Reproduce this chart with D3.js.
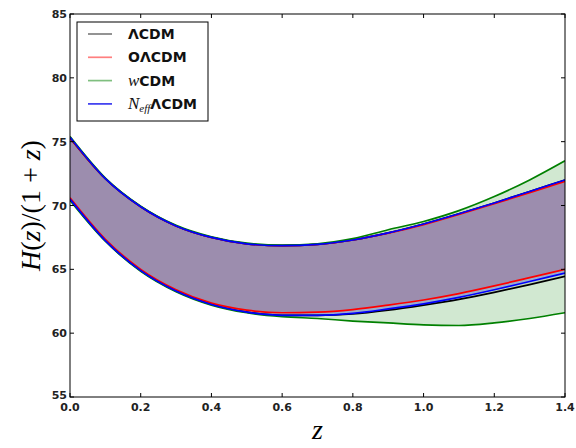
<!DOCTYPE html>
<html>
<head>
<meta charset="utf-8">
<script src="https://cdn.jsdelivr.net/npm/d3@7"></script>
<style>
  body { margin: 0; background: #fff; }
  svg { display: block; }
</style>
</head>
<body>
<script>
// redshift grid
const zs = [0, 0.1, 0.2, 0.3, 0.4, 0.5, 0.6, 0.7, 0.8, 0.9, 1.0, 1.1, 1.2, 1.3, 1.4];

// upper / lower edges of each band, H(z)/(1+z)
const lcdmUp   = [75.3, 72.1, 69.9, 68.4, 67.5, 67.0, 66.85, 66.95, 67.3, 67.85, 68.55, 69.35, 70.2, 71.1, 72.0];
const lcdmLow  = [70.5, 67.25, 64.9, 63.3, 62.25, 61.65, 61.4, 61.4, 61.5, 61.8, 62.2, 62.65, 63.2, 63.8, 64.45];
const olcdmUp  = [75.3, 72.1, 69.9, 68.4, 67.5, 67.0, 66.85, 66.95, 67.3, 67.83, 68.5, 69.3, 70.15, 71.0, 71.9];
const olcdmLow = [70.6, 67.35, 65.0, 63.4, 62.35, 61.8, 61.6, 61.65, 61.85, 62.2, 62.6, 63.1, 63.7, 64.35, 65.0];
const wcdmUp   = [75.4, 72.15, 69.95, 68.45, 67.55, 67.05, 66.9, 67.0, 67.4, 68.1, 68.75, 69.6, 70.7, 72.0, 73.5];
const wcdmLow  = [70.4, 67.2, 64.85, 63.25, 62.2, 61.6, 61.3, 61.15, 60.95, 60.8, 60.65, 60.6, 60.8, 61.15, 61.6];
const neffUp   = [75.35, 72.1, 69.9, 68.4, 67.5, 67.0, 66.85, 66.95, 67.3, 67.85, 68.55, 69.35, 70.2, 71.1, 72.0];
const neffLow  = [70.5, 67.25, 64.9, 63.3, 62.25, 61.65, 61.4, 61.4, 61.55, 61.9, 62.3, 62.8, 63.4, 64.05, 64.7];

const xTicks = [0.0, 0.2, 0.4, 0.6, 0.8, 1.0, 1.2, 1.4];
const yTicks = [55, 60, 65, 70, 75, 80, 85];

const models = [
  { name: "ΛCDM",     up: lcdmUp,  low: lcdmLow,  color: "#000000", alpha: 0.08, legend: "#808080" },
  { name: "OΛCDM",    up: olcdmUp, low: olcdmLow, color: "#ff0000", alpha: 0.20, legend: "#ff7f7f" },
  { name: "wCDM",     up: wcdmUp,  low: wcdmLow,  color: "#008000", alpha: 0.18, legend: "#7fbf7f" },
  { name: "NeffΛCDM", up: neffUp,  low: neffLow,  color: "#0000ff", alpha: 0.20, legend: "#3a3af0" }
];

const W = 576, H = 448;
const margin = { top: 14, right: 11, bottom: 51, left: 70 };
const width = W - margin.left - margin.right,
      height = H - margin.top - margin.bottom;

const svg = d3.select("body").append("svg")
    .attr("width", W)
    .attr("height", H);

const g = svg.append("g")
    .attr("transform", "translate(" + margin.left + "," + margin.top + ")");

const x = d3.scaleLinear().domain([0, 1.4]).range([0, width]);
const y = d3.scaleLinear().domain([55, 85]).range([height, 0]);

// bands
const area = d3.area()
    .x((d, i) => x(zs[i]))
    .y0(d => y(d[0]))
    .y1(d => y(d[1]))
    .curve(d3.curveMonotoneX);

const line = d3.line()
    .x((d, i) => x(zs[i]))
    .y(d => y(d))
    .curve(d3.curveMonotoneX);

g.append("defs").append("clipPath").attr("id", "clip")
  .append("rect").attr("width", width).attr("height", height);

const plot = g.append("g").attr("clip-path", "url(#clip)");

models.forEach(m => {
  plot.append("path")
      .datum(m.up.map((u, i) => [m.low[i], u]))
      .attr("d", area)
      .attr("fill", m.color)
      .attr("fill-opacity", m.alpha)
      .attr("stroke", "none");
});

models.forEach(m => {
  [m.up, m.low].forEach(arr => {
    plot.append("path")
        .datum(arr)
        .attr("d", line)
        .attr("fill", "none")
        .attr("stroke", m.color)
        .attr("stroke-width", 1.7);
  });
});

// frame and inward ticks on all sides
g.append("rect")
    .attr("width", width).attr("height", height)
    .attr("fill", "none").attr("stroke", "#000").attr("stroke-width", 1);

const tickLen = 4;
const tickStyle = sel => sel.attr("stroke", "#000").attr("stroke-width", 1);

xTicks.forEach(t => {
  g.append("line").attr("x1", x(t)).attr("x2", x(t)).attr("y1", height).attr("y2", height - tickLen).call(tickStyle);
  g.append("line").attr("x1", x(t)).attr("x2", x(t)).attr("y1", 0).attr("y2", tickLen).call(tickStyle);
  g.append("text")
      .attr("x", x(t)).attr("y", height + 14)
      .attr("text-anchor", "middle")
      .attr("font-family", "DejaVu Sans").attr("font-weight", "bold").attr("font-size", 11)
      .attr("fill", "#222")
      .text(t.toFixed(1));
});

yTicks.forEach(t => {
  g.append("line").attr("x1", 0).attr("x2", tickLen).attr("y1", y(t)).attr("y2", y(t)).call(tickStyle);
  g.append("line").attr("x1", width).attr("x2", width - tickLen).attr("y1", y(t)).attr("y2", y(t)).call(tickStyle);
  g.append("text")
      .attr("x", -3).attr("y", y(t) + (t === 55 ? 2 : 4))
      .attr("text-anchor", "end")
      .attr("font-family", "DejaVu Sans").attr("font-weight", "bold").attr("font-size", 11)
      .attr("fill", "#222")
      .text(t);
});

// axis labels
const serif = "Liberation Serif, DejaVu Serif, serif";
const ylab = svg.append("text")
    .attr("transform", "translate(40," + (margin.top + height / 2) + ") rotate(-90)")
    .attr("text-anchor", "middle")
    .attr("font-family", serif).attr("font-size", 28)
    .attr("fill", "#000");
[["H", true], ["(", false], ["z", true], [")/(1 + ", false], ["z", true], [")", false]].forEach(p => {
  ylab.append("tspan").attr("font-style", p[1] ? "italic" : "normal").text(p[0]);
});

svg.append("text")
    .attr("x", margin.left + width / 2).attr("y", 439)
    .attr("text-anchor", "middle")
    .attr("font-family", serif).attr("font-style", "italic").attr("font-size", 28)
    .text("z");

// legend
const lg = g.append("g").attr("transform", "translate(7,8)");
lg.append("rect")
    .attr("width", 131).attr("height", 99)
    .attr("fill", "#fff").attr("stroke", "#000").attr("stroke-width", 1);

models.forEach((m, i) => {
  const ly = 12 + i * 23.3;
  lg.append("line")
      .attr("x1", 11).attr("x2", 35).attr("y1", ly).attr("y2", ly)
      .attr("stroke", m.legend).attr("stroke-width", 1.7);
  const t = lg.append("text")
      .attr("x", 51).attr("y", ly + 5)
      .attr("font-family", "DejaVu Sans").attr("font-weight", "bold").attr("font-size", 14)
      .attr("fill", "#111");
  if (m.name === "wCDM") {
    t.append("tspan").attr("font-family", serif).attr("font-style", "italic").attr("font-weight", "normal").attr("font-size", 17).text("w");
    t.append("tspan").text("CDM");
  } else if (m.name === "NeffΛCDM") {
    t.append("tspan").attr("font-family", serif).attr("font-style", "italic").attr("font-weight", "normal").attr("font-size", 17).text("N");
    t.append("tspan").attr("font-family", serif).attr("font-style", "italic").attr("font-weight", "normal").attr("font-size", 11).attr("dy", 3).text("eff");
    t.append("tspan").attr("dy", -3).text("ΛCDM");
  } else {
    t.text(m.name);
  }
});
</script>
</body>
</html>
